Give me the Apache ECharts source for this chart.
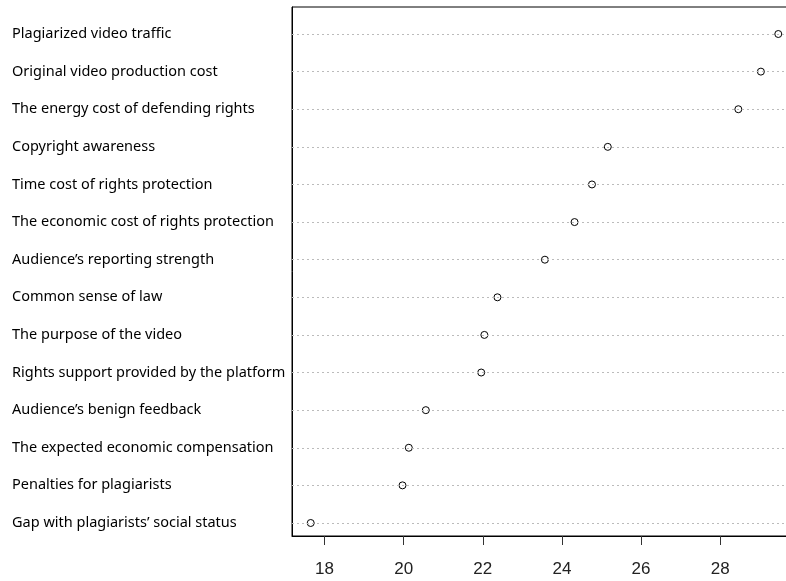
<!DOCTYPE html>
<html>
<head>
<meta charset="utf-8">
<script src="https://cdn.jsdelivr.net/npm/echarts@6/dist/echarts.min.js"></script>
<style>
html, body { margin: 0; padding: 0; background: #fff; }
#chart { width: 786px; height: 581px; }
</style>
</head>
<body>
<div id="chart"></div>
<script>
// Categories listed from top to bottom
const categories = [
  "Plagiarized video traffic",
  "Original video production cost",
  "The energy cost of defending rights",
  "Copyright awareness",
  "Time cost of rights protection",
  "The economic cost of rights protection",
  "Audience\u2019s reporting strength",
  "Common sense of law",
  "The purpose of the video",
  "Rights support provided by the platform",
  "Audience\u2019s benign feedback",
  "The expected economic compensation",
  "Penalties for plagiarists",
  "Gap with plagiarists\u2019 social status"
];
const values = [29.47, 29.03, 28.46, 25.16, 24.76, 24.32, 23.57, 22.37, 22.04, 21.96, 20.56, 20.13, 19.97, 17.65];
const xTicks = [18, 20, 22, 24, 26, 28];

const n = categories.length;
const rowPos = categories.map((c, i) => n - i); // top row = n
const points = values.map((v, i) => [v, rowPos[i]]);

const chart = echarts.init(document.getElementById('chart'), null, { renderer: 'canvas' });
chart.setOption({
  animation: false,
  backgroundColor: '#fff',
  grid: {
    left: 292, top: 7, width: 505, height: 529,
    outerBoundsMode: 'none', containLabel: false,
    show: true, borderColor: '#000', borderWidth: 1, backgroundColor: 'transparent'
  },
  xAxis: {
    type: 'value', min: 17.177, max: 29.943,
    splitLine: { show: false },
    axisLine: { show: true, lineStyle: { color: '#000' } },
    axisTick: { show: true, customValues: xTicks, length: 9, lineStyle: { color: '#333' } },
    axisLabel: { customValues: xTicks, margin: 25, fontSize: 17, color: '#222', fontFamily: 'Liberation Sans, Arial, sans-serif' }
  },
  yAxis: {
    type: 'value', min: 0.654, max: 14.718,
    splitLine: { show: false },
    axisLine: { show: true, onZero: false, lineStyle: { color: '#000' } },
    axisTick: { show: false },
    axisLabel: {
      customValues: rowPos,
      formatter: (v) => categories[n - Math.round(v)] || '',
      align: 'left', margin: 280, fontSize: 14.5, color: '#000',
      fontFamily: 'Noto Sans, sans-serif', padding: [0, 0, 6, 0]
    }
  },
  series: [{
    type: 'scatter',
    data: points,
    symbol: 'circle',
    symbolSize: 7,
    itemStyle: { color: '#fff', borderColor: '#000', borderWidth: 1, opacity: 1 },
    z: 3,
    markLine: {
      silent: true,
      symbol: ['none', 'none'],
      label: { show: false },
      lineStyle: { type: [2, 3], color: '#bbb', width: 1 },
      data: rowPos.map(r => ({ yAxis: r }))
    }
  }]
});
</script>
</body>
</html>
